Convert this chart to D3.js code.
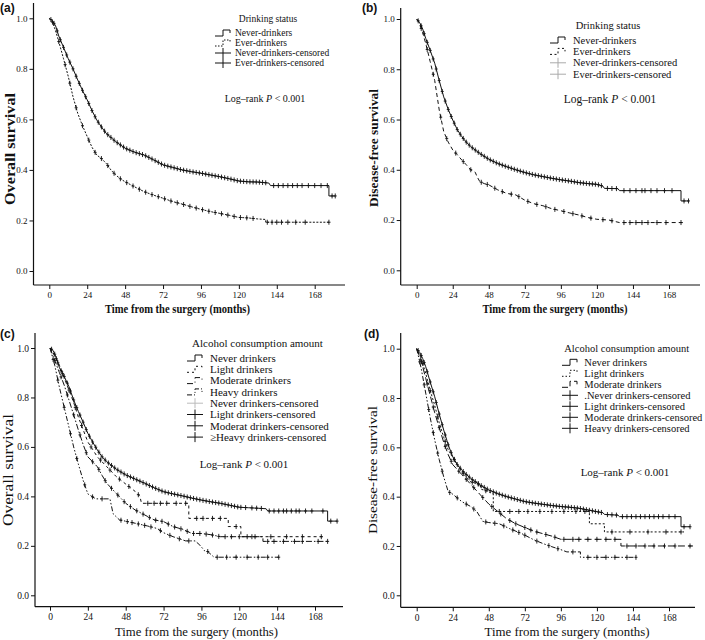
<!DOCTYPE html>
<html><head><meta charset="utf-8">
<script src="https://cdn.jsdelivr.net/npm/d3@7"></script>
<style>body{margin:0;background:#fff}svg{display:block}</style>
</head><body>
<svg id="chart" width="705" height="640"></svg>
<script>
// ---------- DATA ----------
const monthTicks = [0, 24, 48, 72, 96, 120, 144, 168];
const survTicks = [0.0, 0.2, 0.4, 0.6, 0.8, 1.0];

// Panel (a) overall survival by drinking status: [month, survival]
const a_never = [[0,1],[2,0.99],[4,0.97],[6,0.93],[9,0.885],[12,0.84],[15,0.8],[18,0.756],[21,0.715],[24,0.677],[27,0.635],[30,0.598],[33,0.57],[36,0.545],[42,0.512],[48,0.486],[54,0.47],[60,0.459],[66,0.44],[72,0.42],[78,0.41],[84,0.4],[90,0.393],[96,0.387],[102,0.38],[108,0.373],[114,0.365],[120,0.356],[126,0.353],[132,0.352],[139,0.348],[140,0.338],[177,0.338],[177,0.297],[181,0.297]];
const a_ever = [[0,1],[2,0.985],[4,0.95],[6,0.908],[9,0.84],[12,0.77],[15,0.69],[18,0.624],[21,0.575],[24,0.532],[27,0.49],[30,0.459],[33,0.445],[36,0.426],[39,0.4],[42,0.38],[45,0.365],[48,0.353],[54,0.333],[60,0.314],[66,0.3],[72,0.288],[78,0.275],[84,0.265],[90,0.254],[96,0.244],[102,0.235],[108,0.228],[114,0.22],[120,0.212],[126,0.21],[132,0.206],[137,0.204],[137,0.193],[178,0.193]];
const a_neverCens = [1,3,5,7,9,11,13,15,17,19,21,23,25,27,29,31,33,35,37,39,41,43,45,47,49,51,53,55,57,59,61,63,65,67,69,71,73,75,77,79,81,83,85,87,89,91,93,95,97,99,101,103,105,107,109,111,113,115,117,119,121,123,125,127,129,131,133,135,137,142,145,148,151,154,157,160,164,168,172,176,179,181];
const a_everCens = [2,6,10,13,17,21,25,29,33,37,41,45,49,53,57,61,65,69,73,77,81,85,89,93,97,101,105,109,113,117,121,125,129,138,141,144,147,151,156,162,177];

// Panel (b) disease-free survival by drinking status
const b_never = [[0,1],[2,0.985],[4,0.96],[6,0.923],[9,0.875],[12,0.824],[15,0.755],[18,0.69],[21,0.64],[24,0.598],[27,0.56],[30,0.532],[33,0.51],[36,0.492],[42,0.465],[48,0.442],[54,0.425],[60,0.412],[66,0.4],[72,0.389],[78,0.38],[84,0.373],[90,0.366],[96,0.36],[102,0.355],[108,0.349],[114,0.345],[120,0.342],[124,0.335],[125,0.326],[134,0.325],[135,0.317],[176,0.317],[176,0.276],[181,0.276]];
const b_ever = [[0,1],[2,0.98],[4,0.945],[6,0.903],[9,0.83],[12,0.755],[15,0.638],[18,0.552],[21,0.51],[24,0.479],[27,0.46],[30,0.439],[33,0.42],[36,0.4],[39,0.39],[40,0.375],[42,0.353],[45,0.345],[48,0.34],[54,0.32],[60,0.306],[66,0.3],[72,0.279],[78,0.265],[84,0.257],[90,0.245],[96,0.237],[102,0.228],[108,0.22],[114,0.21],[120,0.203],[128,0.2],[135,0.19],[178,0.19]];
const b_neverCens = [1,3,5,7,9,11,13,15,17,19,21,23,25,27,29,31,33,35,37,39,41,43,45,47,49,51,53,55,57,59,61,63,65,67,69,71,73,75,77,79,81,83,85,87,89,91,93,95,97,99,101,103,105,107,109,111,113,115,117,119,121,123,127,130,133,138,142,146,150,152,156,160,165,170,178,181];
const b_everCens = [3,7,11,16,20,26,31,36,43,47,52,57,63,68,74,80,86,92,98,104,110,116,124,130,138,142,146,150,154,160,166,176];

// Panel (c) overall survival by alcohol consumption amount
const c_never = [[0,1],[2,0.99],[4,0.96],[6,0.92],[9,0.885],[12,0.844],[15,0.79],[18,0.743],[21,0.7],[24,0.655],[27,0.62],[30,0.588],[33,0.56],[36,0.54],[42,0.51],[48,0.487],[54,0.47],[60,0.453],[66,0.435],[72,0.419],[78,0.41],[84,0.402],[90,0.393],[96,0.385],[102,0.378],[108,0.372],[114,0.364],[120,0.356],[126,0.354],[132,0.352],[137,0.35],[138,0.341],[176,0.341],[176,0.3],[182,0.3]];
const c_light = [[0,1],[3,0.97],[6,0.93],[9,0.88],[12,0.83],[15,0.78],[18,0.72],[21,0.67],[24,0.62],[27,0.59],[30,0.56],[33,0.54],[36,0.52],[42,0.48],[48,0.45],[54,0.42],[57,0.4],[58,0.372],[88,0.372],[88,0.311],[113,0.311],[113,0.278],[121,0.278],[121,0.237],[174,0.237]];
const c_moderate = [[0,1],[3,0.95],[6,0.9],[9,0.85],[12,0.79],[15,0.73],[18,0.668],[21,0.61],[24,0.56],[27,0.54],[30,0.52],[33,0.485],[36,0.453],[42,0.412],[48,0.372],[54,0.345],[60,0.325],[66,0.305],[72,0.298],[78,0.278],[84,0.267],[90,0.25],[96,0.25],[102,0.245],[108,0.237],[135,0.237],[135,0.218],[176,0.218]];
const c_heavy = [[0,1],[3,0.93],[6,0.84],[9,0.76],[12,0.68],[15,0.6],[18,0.53],[21,0.465],[24,0.41],[29,0.39],[38,0.39],[40,0.33],[44,0.305],[55,0.29],[62,0.28],[68,0.27],[72,0.253],[78,0.237],[86,0.22],[92,0.22],[95,0.203],[98,0.18],[100,0.177],[104,0.154],[145,0.154]];
const c_neverCens = [1,3,5,7,9,11,13,15,17,19,21,23,25,27,29,31,33,35,37,39,41,43,45,47,49,51,53,55,57,59,61,63,65,67,69,71,73,75,77,79,81,83,85,87,89,91,93,95,97,99,101,103,105,107,109,111,113,115,117,119,121,124,128,131,134,139,142,145,148,150,153,156,158,162,166,173,178,182];
const c_lightCens = [4,8,12,16,20,26,32,38,44,50,56,62,66,70,74,80,86,93,97,103,108,118,128,140,150,160,172];
const c_moderateCens = [3,7,11,15,19,23,27,31,35,39,43,47,51,55,59,63,67,71,75,79,83,87,91,95,99,103,107,111,115,120,125,130,138,142,148,155,160,170,176];
const c_heavyCens = [2,5,9,13,17,22,27,33,45,49,52,56,60,64,70,76,82,88,100,106,112,118,125,132,138,145];

// Panel (d) disease-free survival by alcohol consumption amount
const d_never = [[0,1],[2,0.985],[4,0.96],[6,0.927],[9,0.865],[12,0.805],[15,0.735],[18,0.67],[21,0.61],[24,0.562],[27,0.53],[30,0.508],[33,0.49],[36,0.474],[42,0.448],[48,0.427],[54,0.412],[60,0.4],[66,0.39],[72,0.38],[78,0.374],[84,0.369],[90,0.364],[96,0.36],[102,0.357],[108,0.353],[114,0.346],[120,0.339],[124,0.335],[125,0.328],[134,0.325],[135,0.319],[176,0.319],[176,0.278],[182,0.278]];
const d_light = [[0,1],[3,0.96],[6,0.9],[9,0.83],[12,0.77],[15,0.7],[18,0.64],[21,0.59],[24,0.56],[27,0.53],[30,0.5],[33,0.48],[36,0.46],[42,0.45],[43,0.43],[48,0.42],[51,0.41],[51,0.34],[115,0.34],[115,0.29],[125,0.29],[125,0.257],[178,0.257]];
const d_moderate = [[0,1],[3,0.95],[6,0.88],[9,0.81],[12,0.74],[15,0.68],[18,0.62],[21,0.57],[24,0.53],[27,0.51],[30,0.49],[33,0.47],[36,0.45],[42,0.41],[48,0.37],[54,0.34],[60,0.31],[66,0.29],[72,0.275],[78,0.26],[84,0.25],[90,0.24],[96,0.227],[136,0.227],[136,0.2],[184,0.2]];
const d_heavy = [[0,1],[3,0.92],[6,0.82],[9,0.72],[12,0.63],[15,0.55],[18,0.48],[21,0.42],[24,0.41],[30,0.38],[36,0.36],[40,0.34],[44,0.3],[48,0.295],[55,0.29],[62,0.27],[70,0.25],[78,0.225],[84,0.21],[90,0.197],[96,0.185],[100,0.176],[109,0.176],[109,0.154],[146,0.154]];
const d_neverCens = [1,3,5,7,9,11,13,15,17,19,21,23,25,27,29,31,33,35,37,39,41,43,45,47,49,51,53,55,57,59,61,63,65,67,69,71,73,75,77,79,81,83,85,87,89,91,93,95,97,99,101,103,105,107,109,111,113,115,117,119,121,123,127,130,133,137,140,143,146,149,152,155,158,161,164,168,172,178,182];
const d_lightCens = [4,9,14,19,25,31,37,41,46,55,62,68,74,82,90,98,106,112,130,142,154,166,176];
const d_moderateCens = [3,7,11,15,19,23,28,33,38,44,50,56,62,66,72,76,80,86,92,98,104,108,114,120,126,132,140,146,152,158,165,172,182];
const d_heavyCens = [2,5,8,11,14,17,22,27,33,38,46,52,58,64,68,72,80,88,94,104,114,120,126,132,140,146];

const legendA = ["Never-drinkers","Ever-drinkers","Never-drinkers-censored","Ever-drinkers-censored"];
const legendC = ["Never drinkers","Light drinkers","Moderate drinkers","Heavy drinkers","Never drinkers-censored","Light drinkers-censored","Moderat drinkers-censored","\u2265Heavy drinkers-censored"];
const legendD = ["Never drinkers","Light drinkers","Moderate drinkers",".Never drinkers-censored","Light drinkers-censored","Moderate drinkers-censored","Heavy drinkers-censored"];

// ---------- STYLE / LAYOUT ----------
const SERIF = '"Liberation Serif","Times New Roman",serif';
const SANS = '"Liberation Sans",Arial,sans-serif';
const INK = "#111";

const panels = [
  { label:"(a)", lab:[0,12], x0:49.3, x168:314.7, xl:33.5, xr:345, y1:18.3, y0:271, yb:285, yt:3, tickFs:9,
    yTitle:{text:"Overall survival", x:10, y:149, fs:14.5, w:"bold", len:112},
    xTitle:{text:"Time from the surgery (months)", x:177.5, y:313, fs:12.5, w:"bold", len:145},
    series:[{d:a_never,c:a_neverCens,dash:null},{d:a_ever,c:a_everCens,dash:"2,1.5"}],
    legend:{title:"Drinking status", tx:268, ty:21.5, fs:9.5, sx:215, textX:235, y0:33, dy:10,
      items:[{t:legendA[0],k:"line",dash:null},{t:legendA[1],k:"line",dash:"1.5,1.5"},{t:legendA[2],k:"cens",col:INK},{t:legendA[3],k:"cens",col:INK}]},
    logrank:{x:265, y:101.5, fs:10} },
  { label:"(b)", lab:[362,12], x0:416.7, x168:669, xl:400.7, xr:700, y1:19, y0:270.3, yb:285, yt:8, tickFs:9,
    yTitle:{text:"Disease-free survival", x:373, y:148, fs:13, w:"bold", len:118},
    xTitle:{text:"Time from the surgery (months)", x:555, y:313, fs:12.5, w:"bold", len:145},
    series:[{d:b_never,c:b_neverCens,dash:null},{d:b_ever,c:b_everCens,dash:"4,3"}],
    legend:{title:"Drinking status", tx:608, ty:28.5, fs:10.5, sx:550, textX:573, y0:40, dy:11.4,
      items:[{t:legendA[0],k:"line",dash:null},{t:legendA[1],k:"line",dash:"2,2.5"},{t:legendA[2],k:"cens",col:"#aaa"},{t:legendA[3],k:"cens",col:"#aaa"}]},
    logrank:{x:610, y:103, fs:11.5} },
  { label:"(c)", lab:[0,338], x0:50, x168:315, xl:35, xr:343, y1:348, y0:595.3, yb:606.7, yt:333, tickFs:9.5,
    yTitle:{text:"Overall survival", x:8, y:470, fs:14, w:"normal", len:112},
    xTitle:{text:"Time from the surgery (months)", x:196.5, y:636, fs:12.5, w:"normal", len:163},
    series:[{d:c_never,c:c_neverCens,dash:null},{d:c_light,c:c_lightCens,dash:"3,3"},{d:c_moderate,c:c_moderateCens,dash:"6,2,1.5,2"},{d:c_heavy,c:c_heavyCens,dash:"5,2,1.5,2,1.5,2"}],
    legend:{title:"Alcohol consumption amount", tx:257.5, ty:347, fs:11, sx:187, textX:210, y0:358, dy:11.3,
      items:[{t:legendC[0],k:"line",dash:null},{t:legendC[1],k:"line",dash:"2,3"},{t:legendC[2],k:"line",dash:"6,3,1,3"},{t:legendC[3],k:"line",dash:"5,2,1,2,1,2"},
             {t:legendC[4],k:"cens",col:"#bbb"},{t:legendC[5],k:"cens",col:INK},{t:legendC[6],k:"cens",col:INK},{t:legendC[7],k:"cens",col:INK}]},
    logrank:{x:244, y:468, fs:11} },
  { label:"(d)", lab:[364,338], x0:416.7, x168:669, xl:400.7, xr:695, y1:348.7, y0:595.3, yb:607.3, yt:333, tickFs:9.5,
    yTitle:{text:"Disease-free survival", x:372, y:470, fs:13.5, w:"normal", len:128},
    xTitle:{text:"Time from the surgery (months)", x:567, y:636, fs:12.5, w:"normal", len:165},
    series:[{d:d_never,c:d_neverCens,dash:null},{d:d_light,c:d_lightCens,dash:"2,2"},{d:d_moderate,c:d_moderateCens,dash:"7,3"},{d:d_heavy,c:d_heavyCens,dash:"5,2,1.5,2,1.5,2"}],
    legend:{title:"Alcohol consumption amount", tx:626.7, ty:351.5, fs:10.5, sx:562, textX:584.3, y0:362.3, dy:11,
      items:[{t:legendD[0],k:"line",dash:null},{t:legendD[1],k:"line",dash:"1.5,2"},{t:legendD[2],k:"line",dash:"6,3"},
             {t:legendD[3],k:"cens",col:INK},{t:legendD[4],k:"cens",col:INK},{t:legendD[5],k:"cens",col:INK},{t:legendD[6],k:"cens",col:INK}]},
    logrank:{x:625, y:475.5, fs:11} }
];

// ---------- DRAW ----------
const svg = d3.select("#chart");
svg.append("rect").attr("width",705).attr("height",640).attr("fill","#fff");

function valueAt(pts, t){
  let v = pts[0][1];
  for (let i=0;i<pts.length;i++){
    if (pts[i][0] <= t){
      v = pts[i][1];
      if (i+1 < pts.length && pts[i+1][0] > t){
        const [t0,v0]=pts[i],[t1,v1]=pts[i+1];
        v = v0 + (v1-v0)*(t-t0)/(t1-t0);
        break;
      }
    }
  }
  return v;
}

panels.forEach(p => {
  const g = svg.append("g");
  const x = d3.scaleLinear().domain([0,168]).range([p.x0,p.x168]);
  const y = d3.scaleLinear().domain([0,1]).range([p.y0,p.y1]);

  // axes
  const xa = g.append("g").attr("transform",`translate(0,${p.yb})`)
    .call(d3.axisBottom(x).tickValues(monthTicks).tickSize(4).tickSizeOuter(0).tickPadding(3));
  xa.select(".domain").remove();
  const ya = g.append("g").attr("transform",`translate(${p.xl},0)`)
    .call(d3.axisLeft(y).tickValues(survTicks).tickFormat(d3.format(".1f")).tickSize(4).tickSizeOuter(0).tickPadding(2));
  ya.select(".domain").remove();
  [xa,ya].forEach(a=>{
    a.selectAll("line").attr("stroke",INK).attr("stroke-width",1);
    a.selectAll("text").attr("font-family",SERIF).attr("font-size",p.tickFs).attr("fill",INK);
  });
  g.append("line").attr("x1",p.xl).attr("x2",p.xr).attr("y1",p.yb).attr("y2",p.yb).attr("stroke",INK).attr("stroke-width",1.2);
  g.append("line").attr("x1",p.xl).attr("x2",p.xl).attr("y1",p.yt).attr("y2",p.yb).attr("stroke",INK).attr("stroke-width",1.2);

  // titles
  g.append("text").text(p.label).attr("x",p.lab[0]).attr("y",p.lab[1])
    .attr("font-family",SANS).attr("font-weight","bold").attr("font-size",12).attr("fill",INK);
  g.append("text").text(p.xTitle.text).attr("x",p.xTitle.x).attr("y",p.xTitle.y)
    .attr("text-anchor","middle").attr("font-family",SERIF).attr("font-weight",p.xTitle.w)
    .attr("font-size",p.xTitle.fs).attr("textLength",p.xTitle.len).attr("lengthAdjust","spacingAndGlyphs").attr("fill",INK);
  g.append("text").text(p.yTitle.text)
    .attr("transform",`translate(${p.yTitle.x + p.yTitle.fs*0.35},${p.yTitle.y}) rotate(-90)`)
    .attr("text-anchor","middle").attr("font-family",SERIF).attr("font-weight",p.yTitle.w)
    .attr("font-size",p.yTitle.fs).attr("textLength",p.yTitle.len).attr("lengthAdjust","spacingAndGlyphs").attr("fill",INK);

  // curves
  const line = d3.line().x(d=>x(d[0])).y(d=>y(d[1]));
  p.series.forEach(s=>{
    g.append("path").attr("d",line(s.d)).attr("fill","none").attr("stroke",INK)
      .attr("stroke-width",1).attr("stroke-dasharray",s.dash);
    const cg = g.append("g");
    s.c.forEach(t=>{
      const cx = x(t), cy = y(valueAt(s.d,t));
      cg.append("path").attr("d",`M${cx},${cy-2.5}V${cy+2.5}M${cx-1.5},${cy}H${cx+1.5}`)
        .attr("stroke",INK).attr("stroke-width",0.9).attr("fill","none");
    });
  });

  // legend
  const L = p.legend;
  g.append("text").text(L.title).attr("x",L.tx).attr("y",L.ty).attr("text-anchor","middle")
    .attr("font-family",SERIF).attr("font-size",L.fs).attr("fill",INK);
  L.items.forEach((it,i)=>{
    const cy = L.y0 + i*L.dy;
    if (it.k==="line"){
      g.append("path").attr("d",`M${L.sx},${cy+3}H${L.sx+8}V${cy-3}H${L.sx+15}V${cy}`)
        .attr("fill","none").attr("stroke",INK).attr("stroke-width",1).attr("stroke-dasharray",it.dash);
    } else {
      g.append("path").attr("d",`M${L.sx},${cy}H${L.sx+16}M${L.sx+8},${cy-5}V${cy+5}`)
        .attr("fill","none").attr("stroke",it.col).attr("stroke-width",1);
    }
    g.append("text").text(it.t).attr("x",L.textX).attr("y",cy+L.fs*0.35)
      .attr("font-family",SERIF).attr("font-size",L.fs).attr("fill",INK);
  });
  const lr = g.append("text").attr("x",p.logrank.x).attr("y",p.logrank.y).attr("text-anchor","middle")
    .attr("font-family",SERIF).attr("font-size",p.logrank.fs).attr("fill",INK);
  lr.append("tspan").text("Log\u2013rank ");
  lr.append("tspan").text("P").attr("font-style","italic");
  lr.append("tspan").text(" < 0.001");
});
</script>
</body></html>
